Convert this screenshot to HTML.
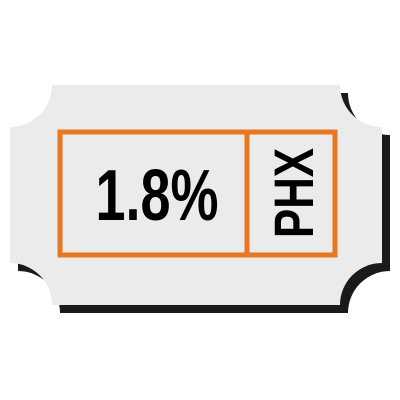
<!DOCTYPE html>
<html><head><meta charset="utf-8"><style>
html,body{margin:0;padding:0;background:#fff;width:400px;height:400px;overflow:hidden}
</style></head><body>
<svg width="400" height="400" viewBox="0 0 400 400">
  <g transform="translate(8,8)">
    <path d="M52 85 L340 85 A42 42 0 0 0 382 127 L382 263 A42 42 0 0 0 340 305 L52 305 A42 42 0 0 0 10 263 L10 127 A42 42 0 0 0 52 85 Z" fill="#1a1a1a"/>
  </g>
  <path d="M52 85 L340 85 A42 42 0 0 0 382 127 L382 263 A42 42 0 0 0 340 305 L52 305 A42 42 0 0 0 10 263 L10 127 A42 42 0 0 0 52 85 Z" fill="#ebebeb"/>
  <rect x="60" y="132" width="275" height="123" fill="none" stroke="#e87722" stroke-width="5"/>
  <line x1="247" y1="132" x2="247" y2="255" stroke="#e87722" stroke-width="5"/>
  <text x="157" y="220" text-anchor="middle" font-family="Liberation Sans Narrow, Liberation Sans, sans-serif" font-weight="bold" font-size="72" fill="#000" textLength="123" lengthAdjust="spacingAndGlyphs">1.8%</text>
  <text transform="translate(313,193) rotate(-90)" text-anchor="middle" font-family="Liberation Sans, sans-serif" font-weight="bold" font-size="56" fill="#000" textLength="90" lengthAdjust="spacingAndGlyphs">PHX</text>
</svg>
</body></html>
